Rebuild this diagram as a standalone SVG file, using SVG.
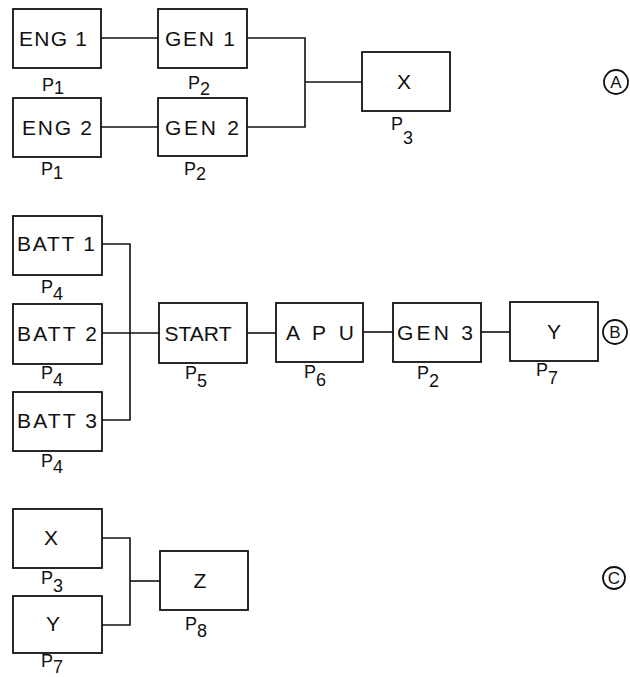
<svg xmlns="http://www.w3.org/2000/svg" width="630" height="677" viewBox="0 0 630 677">
<style>
.box{fill:#fff;stroke:#111;stroke-width:1.8}
.ln{fill:none;stroke:#111;stroke-width:1.6}
.t{font-family:"Liberation Sans","DejaVu Sans",sans-serif;font-size:21px;fill:#111;text-anchor:middle}
.p{font-family:"Liberation Sans","DejaVu Sans",sans-serif;font-size:18px;fill:#111}
.c{fill:none;stroke:#111;stroke-width:1.8}
.cl{font-family:"Liberation Sans","DejaVu Sans",sans-serif;font-size:17px;fill:#111;text-anchor:middle}
</style>
<rect width="630" height="677" fill="#fff"/>
<g id="connectors">
<path class="ln" d="M101 38H158"/>
<path class="ln" d="M101 127H158"/>
<path class="ln" d="M247 38H305V127H247"/>
<path class="ln" d="M305 82H362"/>
<path class="ln" d="M102 244H130V420H102"/>
<path class="ln" d="M102 333H159"/>
<path class="ln" d="M247 333H276"/>
<path class="ln" d="M363 332H393"/>
<path class="ln" d="M481 332H510"/>
<path class="ln" d="M102 538H130V625H102"/>
<path class="ln" d="M130 581H160"/>
</g>
<g id="eng1"><rect class="box" x="13" y="9" width="88" height="59"/><text class="t" x="53" y="46" textLength="68" lengthAdjust="spacing">ENG 1</text><text class="p" x="42" y="91">P<tspan dy="3">1</tspan></text></g>
<g id="gen1"><rect class="box" x="158" y="9" width="89" height="59"/><text class="t" x="200" y="46" textLength="70" lengthAdjust="spacing">GEN 1</text><text class="p" x="188" y="89">P<tspan dy="6">2</tspan></text></g>
<g id="eng2"><rect class="box" x="13" y="98" width="88" height="59"/><text class="t" x="57" y="135" textLength="70" lengthAdjust="spacing">ENG 2</text><text class="p" x="41" y="175">P<tspan dy="4">1</tspan></text></g>
<g id="gen2"><rect class="box" x="158" y="98" width="89" height="58"/><text class="t" x="202" y="135" textLength="74" lengthAdjust="spacing">GEN 2</text><text class="p" x="184" y="175">P<tspan dy="5">2</tspan></text></g>
<g id="x1"><rect class="box" x="362" y="52" width="88" height="59"/><text class="t" x="404" y="89">X</text><text class="p" x="391" y="130">P<tspan dy="14">3</tspan></text></g>
<g id="labelA"><circle class="c" cx="616" cy="82" r="12"/><text class="cl" x="616" y="88">A</text></g>
<g id="batt1"><rect class="box" x="13" y="216" width="89" height="59"/><text class="t" x="56" y="251" textLength="78" lengthAdjust="spacing">BATT 1</text><text class="p" x="41" y="293">P<tspan dy="7">4</tspan></text></g>
<g id="batt2"><rect class="box" x="13" y="304" width="89" height="60"/><text class="t" x="57" y="341" textLength="80" lengthAdjust="spacing">BATT 2</text><text class="p" x="41" y="379">P<tspan dy="7">4</tspan></text></g>
<g id="batt3"><rect class="box" x="13" y="392" width="89" height="59"/><text class="t" x="57" y="428" textLength="80" lengthAdjust="spacing">BATT 3</text><text class="p" x="41" y="467">P<tspan dy="6">4</tspan></text></g>
<g id="start"><rect class="box" x="159" y="303" width="88" height="60"/><text class="t" x="198" y="341" textLength="67" lengthAdjust="spacing">START</text><text class="p" x="185" y="379">P<tspan dy="8">5</tspan></text></g>
<g id="apu"><rect class="box" x="276" y="303" width="87" height="59"/><text class="t" x="320" y="340" textLength="68" lengthAdjust="spacing">A P U</text><text class="p" x="304" y="378">P<tspan dy="8">6</tspan></text></g>
<g id="gen3"><rect class="box" x="393" y="303" width="88" height="59"/><text class="t" x="435" y="340" textLength="76" lengthAdjust="spacing">GEN 3</text><text class="p" x="417" y="379">P<tspan dy="8">2</tspan></text></g>
<g id="y1"><rect class="box" x="510" y="302" width="88" height="59"/><text class="t" x="554" y="339">Y</text><text class="p" x="536" y="376">P<tspan dy="8">7</tspan></text></g>
<g id="labelB"><circle class="c" cx="615" cy="332" r="12"/><text class="cl" x="615" y="338">B</text></g>
<g id="x2"><rect class="box" x="13" y="509" width="89" height="59"/><text class="t" x="51" y="545">X</text><text class="p" x="41" y="584">P<tspan dy="8">3</tspan></text></g>
<g id="y2"><rect class="box" x="13" y="596" width="89" height="57"/><text class="t" x="53" y="631">Y</text><text class="p" x="41" y="667">P<tspan dy="6">7</tspan></text></g>
<g id="z"><rect class="box" x="160" y="551" width="88" height="59"/><text class="t" x="200" y="588">Z</text><text class="p" x="185" y="630">P<tspan dy="7">8</tspan></text></g>
<g id="labelC"><circle class="c" cx="614" cy="578" r="11"/><text class="cl" x="614" y="584">C</text></g>
</svg>
